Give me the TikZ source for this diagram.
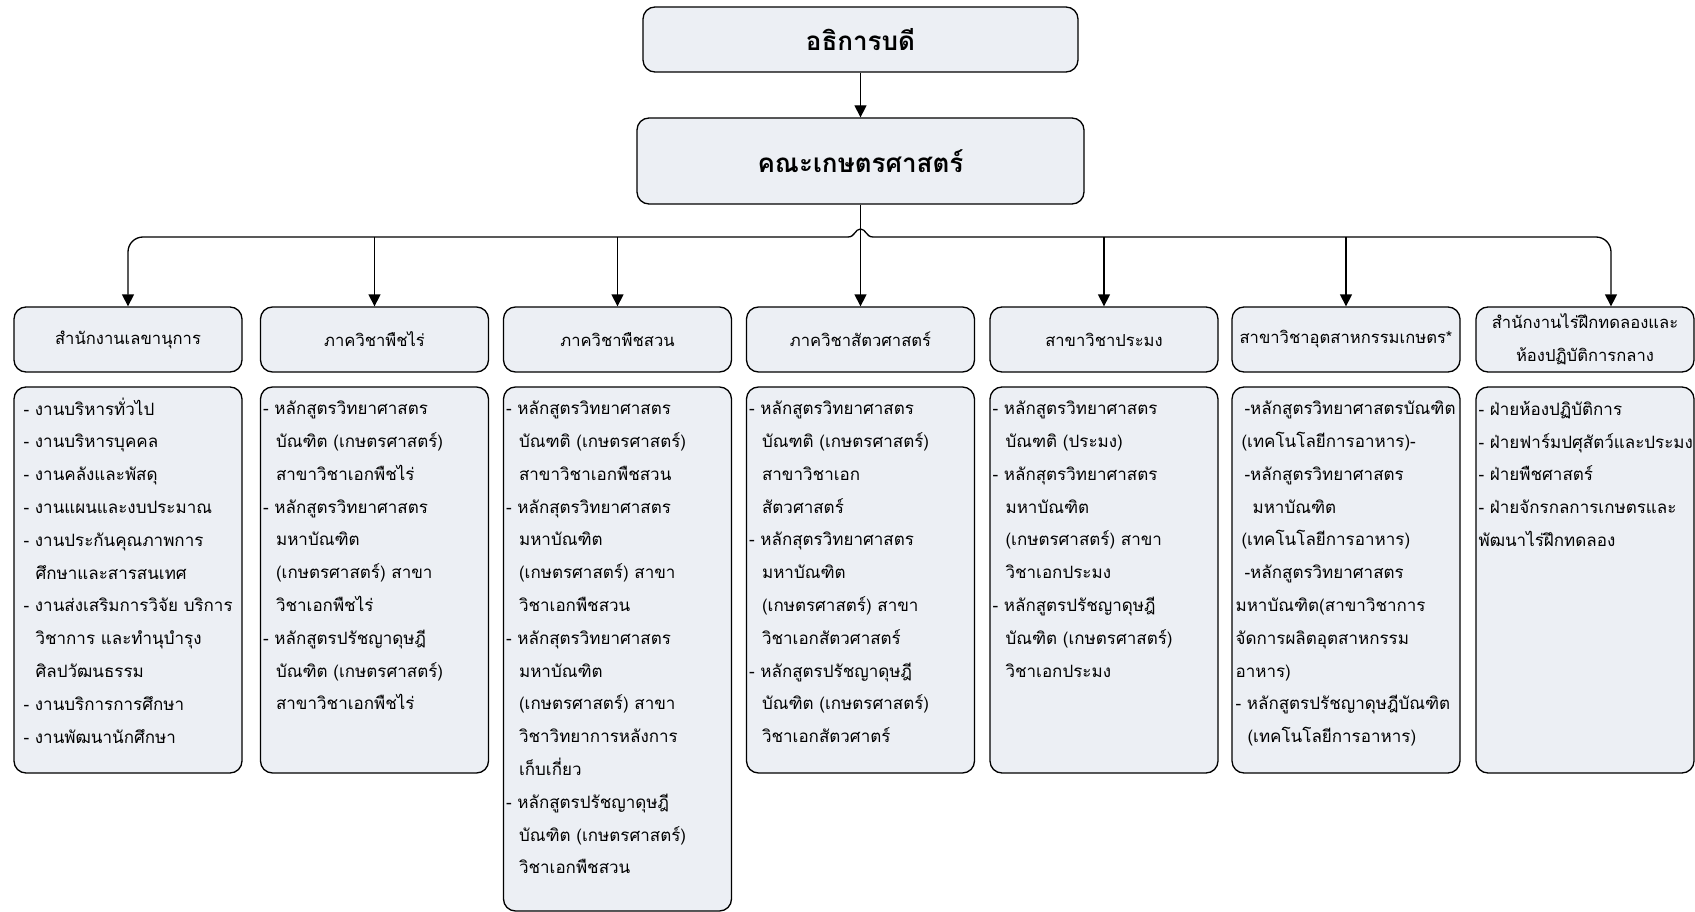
\documentclass[tikz,border=0pt]{standalone}
\usepackage{fontspec}
\setmainfont[Script=Thai]{Loma}
\usepackage{tikz}
\usetikzlibrary{arrows.meta,positioning}
\definecolor{boxfill}{RGB}{236,239,244}

\begin{document}
\begin{tikzpicture}[x=1pt,y=-1pt,
    box/.style={draw=black, fill=boxfill, rounded corners=12pt, line width=1.3pt, minimum width=228pt, inner sep=0pt},
    chief/.style={box, minimum height=65pt, font=\bfseries\fontsize{26}{30}\selectfont},
    head/.style={box, minimum height=65pt, align=center, font=\fontsize{16.6}{32.8}\selectfont},
    detail/.style={box, minimum height=386pt},
    items/.style={anchor=north west, inner sep=0pt, align=left, font=\fontsize{17}{32.8}\selectfont, execute at begin node={\rule{0pt}{30pt}}},
    link/.style={line width=1.3pt, -{Triangle[length=12pt,width=12pt]}}]

    \useasboundingbox (0,0) rectangle (1695,912);

    \node[chief, minimum width=435pt] (rector) at (860.5, 39.5) {อธิการบดี};
    \node[chief, minimum width=447pt, minimum height=86pt] (faculty) at (860.5, 161) {คณะเกษตรศาสตร์};

    \node[head] (hA) at (128, 339.5) {สำนักงานเลขานุการ};
    \node[head] (hB) at (374.5, 339.5) {ภาควิชาพืชไร่};
    \node[head] (hC) at (617.5, 339.5) {ภาควิชาพืชสวน};
    \node[head] (hD) at (860.5, 339.5) {ภาควิชาสัตวศาสตร์};
    \node[head] (hE) at (1104, 339.5) {สาขาวิชาประมง};
    \node[head] (hF) at (1346, 339.5) {สาขาวิชาอุตสาหกรรมเกษตร*};
    \node[head, minimum width=218pt] (hG) at (1585, 339.5) {สำนักงานไร่ฝึกทดลองและ\\ห้องปฏิบัติการกลาง};

    \node[detail] (dA) at (128, 580) {};
    \node[detail] (dB) at (374.5, 580) {};
    \node[detail, minimum height=524pt] (dC) at (617.5, 649) {};
    \node[detail] (dD) at (860.5, 580) {};
    \node[detail] (dE) at (1104, 580) {};
    \node[detail] (dF) at (1346, 580) {};
    \node[detail, minimum width=218pt] (dG) at (1585, 580) {};

    \node[items] (tA) at ([xshift=10pt,yshift=-11pt]dA.north west) {- งานบริหารทั่วไป\\- งานบริหารบุคคล\\- งานคลังและพัสดุ\\- งานแผนและงบประมาณ\\- งานประกันคุณภาพการ\\\hspace*{12pt}ศึกษาและสารสนเทศ\\- งานส่งเสริมการวิจัย บริการ\\\hspace*{12pt}วิชาการ และทำนุบำรุง\\\hspace*{12pt}ศิลปวัฒนธรรม\\- งานบริการการศึกษา\\- งานพัฒนานักศึกษา};
    \node[items] (tB) at ([xshift=3pt,yshift=-14.5pt]dB.north west) {- หลักสูตรวิทยาศาสตร\\\hspace*{13pt}บัณฑิต (เกษตรศาสตร์)\\\hspace*{13pt}สาขาวิชาเอกพืชไร่\\- หลักสูตรวิทยาศาสตร\\\hspace*{13pt}มหาบัณฑิต\\\hspace*{13pt}(เกษตรศาสตร์) สาขา\\\hspace*{13pt}วิชาเอกพืชไร่\\- หลักสูตรปรัชญาดุษฎี\\\hspace*{13pt}บัณฑิต (เกษตรศาสตร์)\\\hspace*{13pt}สาขาวิชาเอกพืชไร่};
    \node[items] (tC) at ([xshift=3pt,yshift=-14.5pt]dC.north west) {- หลักสูตรวิทยาศาสตร\\\hspace*{13pt}บัณฑติ (เกษตรศาสตร์)\\\hspace*{13pt}สาขาวิชาเอกพืชสวน\\- หลักสุตรวิทยาศาสตร\\\hspace*{13pt}มหาบัณฑิต\\\hspace*{13pt}(เกษตรศาสตร์) สาขา\\\hspace*{13pt}วิชาเอกพืชสวน\\- หลักสุตรวิทยาศาสตร\\\hspace*{13pt}มหาบัณฑิต\\\hspace*{13pt}(เกษตรศาสตร์) สาขา\\\hspace*{13pt}วิชาวิทยาการหลังการ\\\hspace*{13pt}เก็บเกี่ยว\\- หลักสูตรปรัชญาดุษฎี\\\hspace*{13pt}บัณฑิต (เกษตรศาสตร์)\\\hspace*{13pt}วิชาเอกพืชสวน};
    \node[items] (tD) at ([xshift=3pt,yshift=-14.5pt]dD.north west) {- หลักสูตรวิทยาศาสตร\\\hspace*{13pt}บัณฑติ (เกษตรศาสตร์)\\\hspace*{13pt}สาขาวิชาเอก\\\hspace*{13pt}สัตวศาสตร์\\- หลักสุตรวิทยาศาสตร\\\hspace*{13pt}มหาบัณฑิต\\\hspace*{13pt}(เกษตรศาสตร์) สาขา\\\hspace*{13pt}วิชาเอกสัตวศาสตร์\\- หลักสูตรปรัชญาดุษฎี\\\hspace*{13pt}บัณฑิต (เกษตรศาสตร์)\\\hspace*{13pt}วิชาเอกสัตวศาตร์};
    \node[items] (tE) at ([xshift=3pt,yshift=-14.5pt]dE.north west) {- หลักสูตรวิทยาศาสตร\\\hspace*{13pt}บัณฑติ (ประมง)\\- หลักสุตรวิทยาศาสตร\\\hspace*{13pt}มหาบัณฑิต\\\hspace*{13pt}(เกษตรศาสตร์) สาขา\\\hspace*{13pt}วิชาเอกประมง\\- หลักสูตรปรัชญาดุษฎี\\\hspace*{13pt}บัณฑิต (เกษตรศาสตร์)\\\hspace*{13pt}วิชาเอกประมง};
    \node[items] (tF) at ([xshift=4pt,yshift=-14.5pt]dF.north west) {\hspace*{9pt}-หลักสูตรวิทยาศาสตรบัณฑิต\\\hspace*{6pt}(เทคโนโลยีการอาหาร)-\\\hspace*{9pt}-หลักสูตรวิทยาศาสตร\\\hspace*{17pt}มหาบัณฑิต\\\hspace*{6pt}(เทคโนโลยีการอาหาร)\\\hspace*{9pt}-หลักสูตรวิทยาศาสตร\\มหาบัณฑิต(สาขาวิชาการ\\จัดการผลิตอุตสาหกรรม\\อาหาร)\\- หลักสูตรปรัชญาดุษฎีบัณฑิต\\\hspace*{12pt}(เทคโนโลยีการอาหาร)};
    \node[items] (tG) at ([xshift=3pt,yshift=-14.5pt]dG.north west) {- ฝ่ายห้องปฏิบัติการ\\- ฝ่ายฟาร์มปศุสัตว์และประมง\\- ฝ่ายพืชศาสตร์\\- ฝ่ายจักรกลการเกษตรและ\\พัฒนาไร่ฝึกทดลอง};

    \coordinate (busL) at (848, 237);
    \coordinate (busR) at (873, 237);

    \draw[link] (rector) -- (faculty);
    \draw[link] (faculty) -- (hD);
    \draw[line width=1.3pt] (busL) .. controls (855,237) and (855,229) .. (860.5,229) .. controls (866,229) and (866,237) .. (busR);
    \draw[link, rounded corners=15pt] (busL) -- (hA.north |- busL) -- (hA.north);
    \draw[link, rounded corners=15pt] (busR) -- ([xshift=26pt]hG.north |- busR) -- ([xshift=26pt]hG.north);
    \draw[link] (hB.north |- busL) -- (hB);
    \draw[link] (hC.north |- busL) -- (hC);
    \draw[link] (hE.north |- busR) -- (hE);
    \draw[link] (hF.north |- busR) -- (hF);
\end{tikzpicture}
\end{document}
